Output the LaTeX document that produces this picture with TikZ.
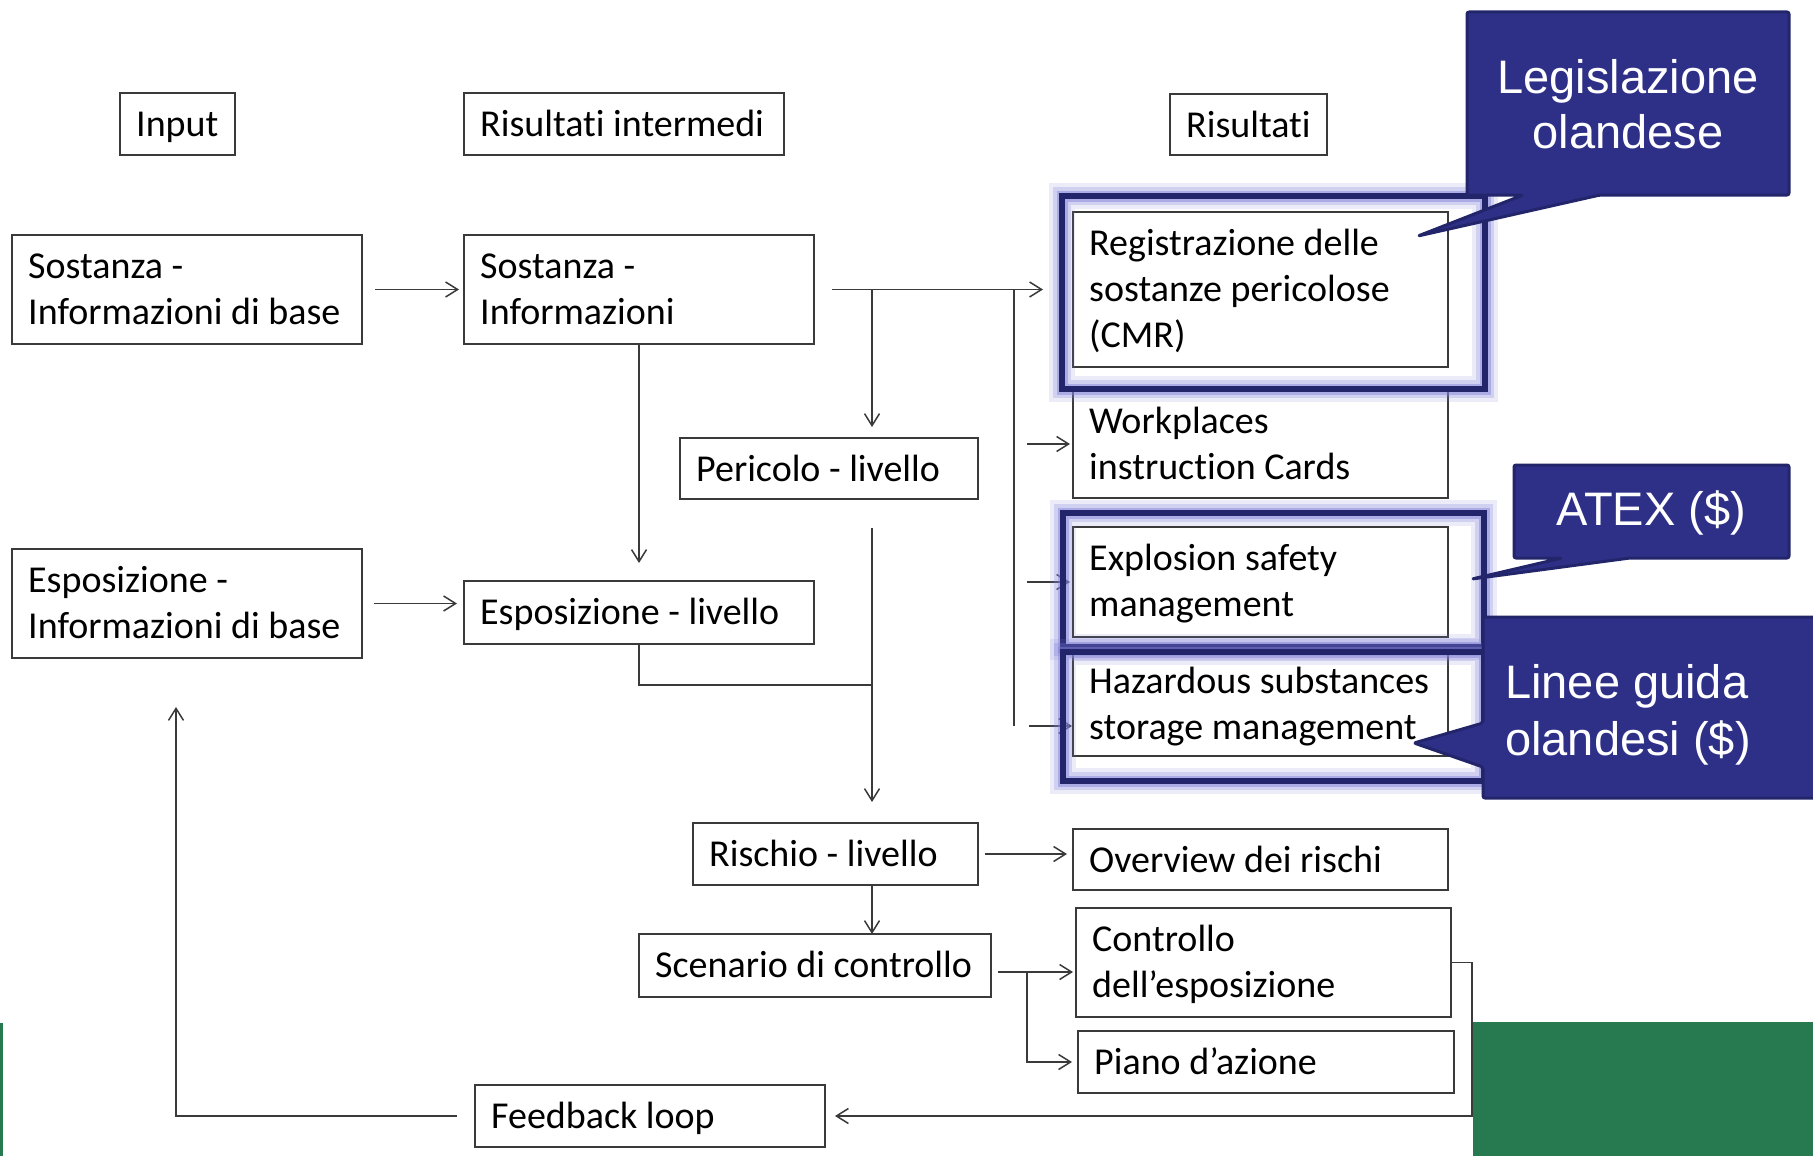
\documentclass[tikz,border=0pt]{standalone}
\usepackage{fontspec}
\setmainfont{Carlito}[Ligatures=NoCommon]
\newfontfamily\calloutfont{Liberation Sans}
\usetikzlibrary{arrows.meta,calc}

\definecolor{linegray}{HTML}{3A3A3A}
\definecolor{navy}{HTML}{2E3088}
\definecolor{navyedge}{HTML}{23256A}
\definecolor{glow}{HTML}{8080DA}
\definecolor{slidegreen}{HTML}{277A50}

\tikzset{
  box/.style={draw=linegray, line width=1.5pt, rectangle, inner sep=0pt, outer sep=0pt, anchor=north west},
  boxtext/.style={anchor=base west, inner sep=0pt, text=black,
                  font=\fontsize{38}{46}\selectfont},
  conn/.style={draw=linegray, line width=1.5pt},
  arr/.style={conn, -{Straight Barb[length=12pt,width=15pt,line width=1.5pt]}},
  callout/.style={fill=navy, draw=navyedge, line width=3pt, rounded corners=2pt, line join=round},
  callouttext/.style={text=white, inner sep=0pt, align=center,
                      font=\calloutfont\fontsize{47}{55}\selectfont},
}

% a flow box: name, left, top, width, height, text (lines split by \\)
\newcommand{\flowbox}[6]{%
  \node[box, minimum width=#4pt, minimum height=#5pt] (#1) at (#2,#3) {};
  \node[boxtext] (#1-t) at ($(#1.north west)+(16,43)$)
    {\begin{tabular}[t]{@{}l@{}}#6\end{tabular}};
}

% highlight frame with a soft halo: left, top, right, bottom
\newcommand{\glowframe}[4]{%
  \draw[glow, opacity=0.15, line width=26pt] (#1,#2) rectangle (#3,#4);
  \draw[glow, opacity=0.25, line width=18pt] (#1,#2) rectangle (#3,#4);
  \draw[glow, opacity=0.45, line width=11pt] (#1,#2) rectangle (#3,#4);
  \draw[navyedge, line width=6pt] (#1,#2) rectangle (#3,#4);
}

\begin{document}
\begin{tikzpicture}[x=1pt,y=-1pt]
\clip (0,0) rectangle (1813,1156);
\fill[white] (0,0) rectangle (1813,1156);

% column headings
\flowbox{input}{120}{93}{115}{62}{Input}
\flowbox{interm}{464}{93}{320}{62}{Risultati intermedi}
\flowbox{result}{1170}{94}{157}{61}{Risultati}

% inputs and intermediate results
\flowbox{sostbase}{12}{235}{350}{109}{Sostanza -\\Informazioni di base}
\flowbox{sostinfo}{464}{235}{350}{109}{Sostanza -\\Informazioni}
\flowbox{pericolo}{680}{438}{298}{61}{Pericolo - livello}
\flowbox{espbase}{12}{549}{350}{109}{Esposizione -\\Informazioni di base}
\flowbox{esplivel}{464}{581}{350}{63}{Esposizione - livello}
\flowbox{rischio}{693}{823}{285}{62}{Rischio - livello}
\flowbox{scenario}{639}{934}{352}{63}{Scenario di controllo}
\flowbox{feedback}{475}{1085}{350}{62}{Feedback loop}

% results
\flowbox{workpl}{1073}{390}{375}{108}{Workplaces\\instruction Cards}
\flowbox{registr}{1073}{212}{375}{155}{Registrazione delle\\sostanze pericolose\\(CMR)}
\flowbox{explosion}{1073}{527}{375}{110}{Explosion safety\\management}
\flowbox{hazard}{1073}{650}{375}{106}{Hazardous substances\\storage management}
\flowbox{overview}{1073}{829}{375}{61}{Overview dei rischi}
\flowbox{controllo}{1076}{908}{375}{109}{Controllo\\dell’esposizione}
\flowbox{piano}{1078}{1031}{376}{62}{Piano d’azione}

% junction points
\coordinate (split) at (872,289.5);
\coordinate (bus) at (1014,289.5);
\coordinate (busend) at (1014,726);
\coordinate (merge) at (872,685);
\coordinate (scenout) at (998,972);
\coordinate (ctrlsplit) at (1027,972);

% connectors
\draw[arr] ($(sostbase.east)+(13,0)$) -- ($(sostinfo.west)+(-5,0)$);
\draw[arr] ($(sostinfo.east)+(18,0)$) -- ($(registr.west)+(-30,0)$);
\draw[arr] (split) -- ($(split |- pericolo.north)+(0,-11)$);
\draw[conn] (bus) -- (busend);
\draw[arr] ($(workpl.west)+(-46,0)$) -- ($(workpl.west)+(-3,0)$);
\draw[arr] ($(explosion.west)+(-46,0)$) -- ($(explosion.west)+(-3,0)$);
\draw[arr] ($(hazard.south west)+(-44,-30)$) -- ($(hazard.south west)+(-1,-30)$);
\draw[arr] (sostinfo.south) -- ($(esplivel.north)+(0,-18)$);
\draw[arr] ($(espbase.east)+(12,0)$) -- ($(espbase.east -| esplivel.west)+(-7,0)$);
\draw[conn] (esplivel.south) |- (merge);
\draw[arr] ($(pericolo.south -| split)+(0,29)$) -- ($(rischio.north -| split)+(0,-21)$);
\draw[arr] ($(rischio.east)+(7,0)$) -- ($(rischio.east -| overview.west)+(-6,0)$);
\draw[arr] (rischio.south -| split) -- (scenario.north -| split);
\draw[arr] (scenout) -- ($(scenout -| controllo.west)+(-3,0)$);
\draw[arr] (ctrlsplit) |- ($(piano.west)+(-6,0)$);
\draw[arr] (controllo.east) -- ++(21,0) |- ($(feedback.east)+(10,0)$);
\draw[arr] ($(feedback.west)+(-18,0)$) -| ($(espbase.south)+(-11,49)$);

% highlighted results
\glowframe{1062}{196}{1485}{389}
\glowframe{1063}{513}{1484}{647}
\glowframe{1063}{652}{1484}{781}

% callouts
\path[callout] (1467,12) -- (1789,12) -- (1789,195) -- (1600,195) -- (1418,236)
  -- (1523,195) -- (1467,195) -- cycle;
\node[callouttext] (legis) at (1628,104) {Legislazione\\olandese};

\path[callout] (1514,465) -- (1789,465) -- (1789,558) -- (1630,558) -- (1472,579)
  -- (1562,558) -- (1514,558) -- cycle;
\node[callouttext] (atex) at (1651,513) {ATEX (\$)};

\path[callout] (1483,617) -- (1830,617) -- (1830,798) -- (1483,798) -- (1483,767)
  -- (1414,743) -- (1483,723) -- cycle;
\node[text=white, inner sep=0pt, anchor=base west, font=\calloutfont\fontsize{47}{57}\selectfont]
  (linee) at (1505,698) {\begin{tabular}[t]{@{}l@{}}Linee guida\\olandesi (\$)\end{tabular}};

% slide background bands
\fill[slidegreen] (1473,1022) rectangle (1813,1156);
\fill[slidegreen] (0,1023) rectangle (3,1156);
\end{tikzpicture}
\end{document}
